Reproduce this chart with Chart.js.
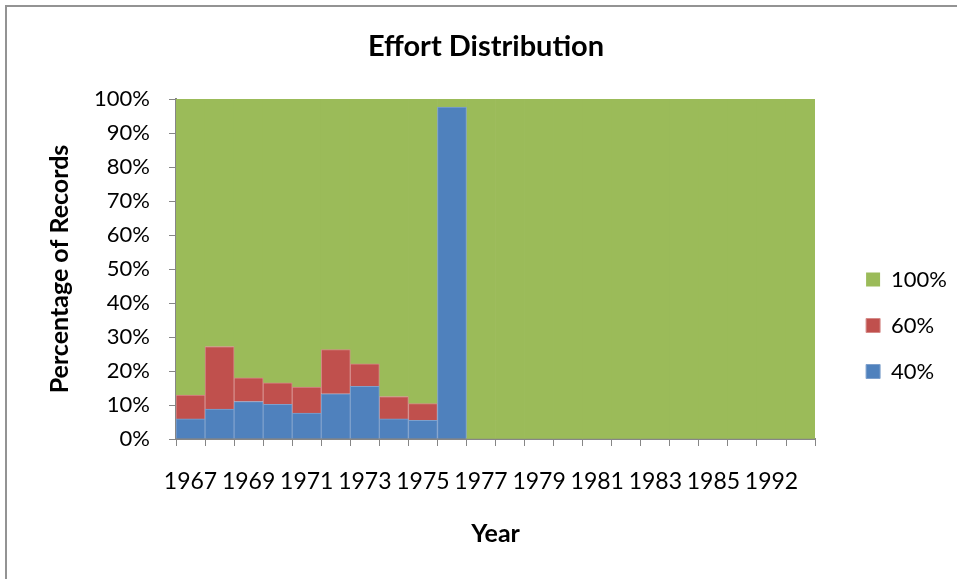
<!DOCTYPE html>
<html lang="en">
<head>
    <meta charset="UTF-8">
    <title>Effort Distribution</title>
    <script src="https://cdn.jsdelivr.net/npm/chart.js"></script>
    <style>
        body { margin: 0; overflow: hidden; background: #fff; }
        #frame {
            position: absolute; left: 5px; top: 5px;
            width: 990px; height: 700px;
            border: 2px solid #939393;
            background: #fff;
        }
        #effortChart { position: absolute; left: 0; top: 0; }
    </style>
</head>
<body>
    <div id="frame">
        <canvas id="effortChart" width="970" height="637"></canvas>
    </div>

    <script>
        // years on the category axis (only every other one is labelled)
        const years = ['1967', '1968', '1969', '1970', '1971', '1972', '1973', '1974', '1975', '1976',
                       '1977', '1978', '1979', '1980', '1981', '1982', '1983', '1984', '1985', '1986',
                       '1992', '1993'];

        // share of records per effort level (%)
        const effort40 = [5.9, 8.8, 11.0, 10.2, 7.6, 13.3, 15.5, 5.9, 5.5, 97.6,
                          0, 0, 0, 0, 0, 0, 0, 0, 0, 0, 0, 0];
        const effort60 = [7.0, 18.4, 7.0, 6.3, 7.7, 13.0, 6.6, 6.6, 4.9, 0,
                          0, 0, 0, 0, 0, 0, 0, 0, 0, 0, 0, 0];
        const effort100 = [87.1, 72.8, 82.0, 83.5, 84.7, 73.7, 77.9, 87.5, 89.6, 2.4,
                           100, 100, 100, 100, 100, 100, 100, 100, 100, 100, 100, 100];

        const axisGray = '#868686';
        const font = 'Lato';

        const ctx = document.getElementById('effortChart').getContext('2d');
        new Chart(ctx, {
            type: 'bar',
            data: {
                labels: years,
                datasets: [
                    { label: '40%', data: effort40, backgroundColor: '#4F81BD', borderColor: '#7ea0cc', borderWidth: 1, yAxisID: 'y' },
                    { label: '60%', data: effort60, backgroundColor: '#C0504D', borderColor: '#d58b89', borderWidth: 1, yAxisID: 'y' },
                    { label: '100%', data: effort100, backgroundColor: '#9BBB59', borderWidth: 0, yAxisID: 'y' }
                ]
            },
            options: {
                responsive: false,
                animation: false,
                devicePixelRatio: 1,
                categoryPercentage: 1.0,
                barPercentage: 1.0,
                layout: { padding: { left: 8, top: 0, bottom: 0, right: 20 } },
                plugins: {
                    title: {
                        display: true,
                        text: 'Effort Distribution',
                        color: '#000',
                        font: { family: font, size: 29, weight: 'bold' },
                        padding: { top: 22.6, bottom: 34.6 }
                    },
                    legend: {
                        position: 'right',
                        reverse: true,
                        labels: {
                            boxWidth: 14,
                            boxHeight: 14,
                            padding: 24,
                            color: '#000',
                            font: { family: font, size: 22 }
                        }
                    },
                    tooltip: { enabled: false }
                },
                scales: {
                    x: {
                        stacked: true,
                        grid: { display: true, drawOnChartArea: false, offset: true, tickLength: 7, color: axisGray },
                        border: { display: true, color: axisGray, width: 2 },
                        ticks: {
                            autoSkip: false,
                            maxRotation: 0,
                            padding: 22,
                            color: '#000',
                            font: { family: font, size: 23 },
                            callback: function (value, index) {
                                return index % 2 === 0 ? this.getLabelForValue(value) : '';
                            }
                        },
                        title: {
                            display: true,
                            text: 'Year',
                            color: '#000',
                            font: { family: font, size: 25, weight: 'bold' },
                            padding: { top: 0, bottom: 95 }
                        },
                        afterFit: function (scale) { scale.height = 205; }
                    },
                    y: {
                        stacked: true,
                        min: 0,
                        max: 100,
                        grid: { display: true, drawOnChartArea: false, tickLength: 7, color: axisGray },
                        border: { display: true, color: axisGray, width: 2 },
                        ticks: {
                            stepSize: 10,
                            padding: 19,
                            color: '#000',
                            font: { family: font, size: 22 },
                            callback: v => v + '%'
                        },
                        title: {
                            display: true,
                            text: 'Percentage of Records',
                            color: '#000',
                            font: { family: font, size: 25, weight: 'bold' },
                            padding: { top: 30, bottom: 0 }
                        },
                        afterFit: function (scale) { scale.width = 161; }
                    },
                    // empty axis, only keeps the gap between plot and legend
                    pad: {
                        type: 'linear',
                        position: 'right',
                        display: true,
                        grid: { display: false },
                        border: { display: false },
                        ticks: { display: false },
                        afterFit: function (scale) { scale.width = 27; }
                    }
                }
            }
        });
    </script>
</body>
</html>
